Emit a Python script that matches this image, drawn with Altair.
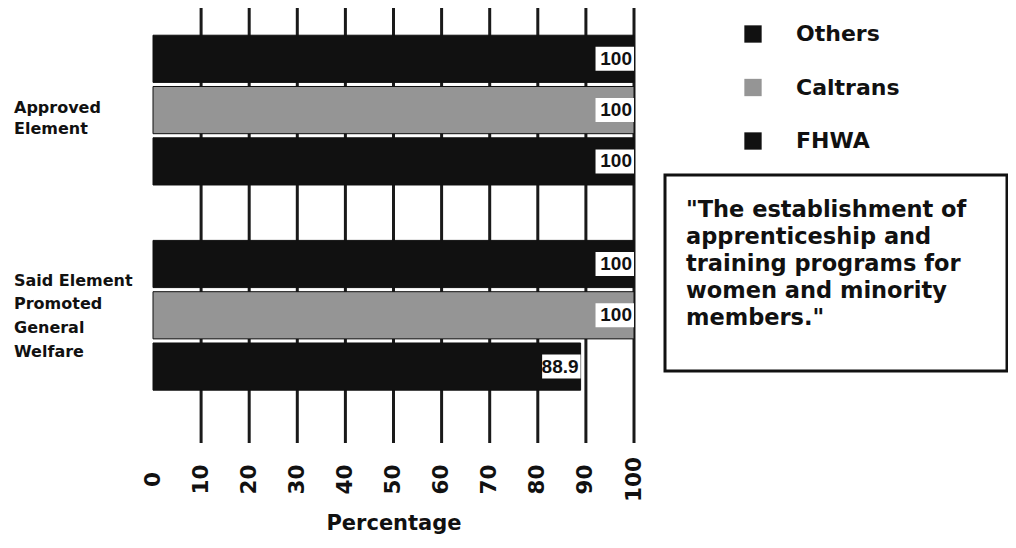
import altair as alt
import pandas as pd

# ---- data ----
groups = ["Approved Element", "Said Element Promoted General Welfare"]
series = ["Others", "Caltrans", "FHWA"]
values_approved = [100, 100, 100]
values_welfare = [100, 100, 88.9]
value_labels_approved = ["100", "100", "100"]
value_labels_welfare = ["100", "100", "88.9"]
x_ticks = [0, 10, 20, 30, 40, 50, 60, 70, 80, 90, 100]
grid_values = [10, 20, 30, 40, 50, 60, 70, 80, 90, 100]
group_label_lines = [["Approved", "Element"], ["Said Element", "Promoted", "General", "Welfare"]]
quote_lines = ["\"The establishment of", "apprenticeship and", "training programs for",
               "women and minority", "members.\""]

rows = []
for gk, vals, labs in [("A", values_approved, value_labels_approved),
                       ("B", values_welfare, value_labels_welfare)]:
    for s, v, l in zip(series, vals, labs):
        rows.append({"row": f"{gk}|{s}", "series": s, "value": v, "label": l})
df = pd.DataFrame(rows)

row_domain = ["A|Others", "A|Caltrans", "A|FHWA", "gap", "B|Others", "B|Caltrans", "B|FHWA"]

FONT = "DejaVu Sans"
W, H = 481, 435

yscale = alt.Scale(domain=row_domain, paddingInner=0.08, paddingOuter=0.78, align=0.34)
yenc = alt.Y("row:N", scale=yscale, axis=None)

xscale = alt.Scale(domain=[0, 100], nice=False, zero=True)
xaxis = alt.Axis(values=x_ticks, labelAngle=270, labelAlign="center",
                 labelBaseline="middle", labelPadding=36, ticks=False,
                 domain=False, grid=False, labelFontSize=21.5,
                 labelFont=FONT, labelFontWeight="bold", labelColor="#111",
                 title="Percentage",
                 titleFont=FONT, titleFontSize=21, titleFontWeight="bold",
                 titleColor="#111", titlePadding=11)

grid = alt.Chart(pd.DataFrame({"g": grid_values})).mark_rule(
    color="#1a1a1a", strokeWidth=3
).encode(
    x=alt.X("g:Q", scale=xscale, axis=xaxis),
    y=alt.value(0), y2=alt.value(H)
)

bars = alt.Chart(df).mark_bar(stroke="#111", strokeWidth=1).encode(
    x=alt.X("value:Q", scale=xscale, axis=xaxis),
    y=yenc,
    color=alt.Color("series:N",
                    scale=alt.Scale(domain=series, range=["#111111", "#959595", "#111111"]),
                    sort=series,
                    legend=alt.Legend(title=None, orient="none", legendX=589, legendY=15,
                                      symbolType="square", symbolSize=300,
                                      symbolStrokeWidth=0, labelFontSize=22,
                                      labelFont=FONT, labelFontWeight="bold",
                                      labelColor="#111",
                                      rowPadding=31.5, labelOffset=32))
)

label_box = alt.Chart(df).transform_calculate(
    start="datum.value - 8"
).mark_bar(height=24, color="white").encode(
    x=alt.X("start:Q", scale=xscale, axis=xaxis), x2="value:Q", y=yenc
)

label_text = alt.Chart(df).mark_text(
    align="right", baseline="middle", dx=-2, fontSize=19, font="Liberation Sans",
    fontWeight="bold", color="#111"
).encode(
    x=alt.X("value:Q", scale=xscale, axis=xaxis), y=yenc, text="label:N"
)

gl1 = alt.Chart(pd.DataFrame({"row": ["A|Caltrans"], "t": [group_label_lines[0]]})).mark_text(
    align="left", baseline="middle", fontSize=16, font=FONT, fontWeight="bold",
    color="#111", lineHeight=21, dy=-2.5
).encode(x=alt.value(-139), y=yenc, text="t")

gl2 = alt.Chart(pd.DataFrame({"row": ["B|Caltrans"], "t": [group_label_lines[1]]})).mark_text(
    align="left", baseline="middle", fontSize=16, font=FONT, fontWeight="bold",
    color="#111", lineHeight=23.7, dy=-34.5
).encode(x=alt.value(-139), y=yenc, text="t")

box = alt.Chart(pd.DataFrame({"k": [1]})).mark_rect(
    fill="white", stroke="#111", strokeWidth=3
).encode(x=alt.value(512), x2=alt.value(854), y=alt.value(167), y2=alt.value(363))

quote = alt.Chart(pd.DataFrame({"t": [quote_lines]})).mark_text(
    align="left", baseline="middle", fontSize=22.5, font=FONT, fontWeight="bold",
    color="#111", lineHeight=27
).encode(x=alt.value(533), y=alt.value(202), text="t")

chart = alt.layer(grid, bars, label_box, label_text, gl1, gl2, box, quote).properties(
    width=W, height=H,
    autosize=alt.AutoSizeParams(type="none"),
    padding={"left": 145, "top": 0, "right": 374, "bottom": 97}
).configure(background="white").configure_view(stroke="transparent", strokeWidth=0)

chart.save("out.html", embed_options={"renderer": "svg", "actions": False})
